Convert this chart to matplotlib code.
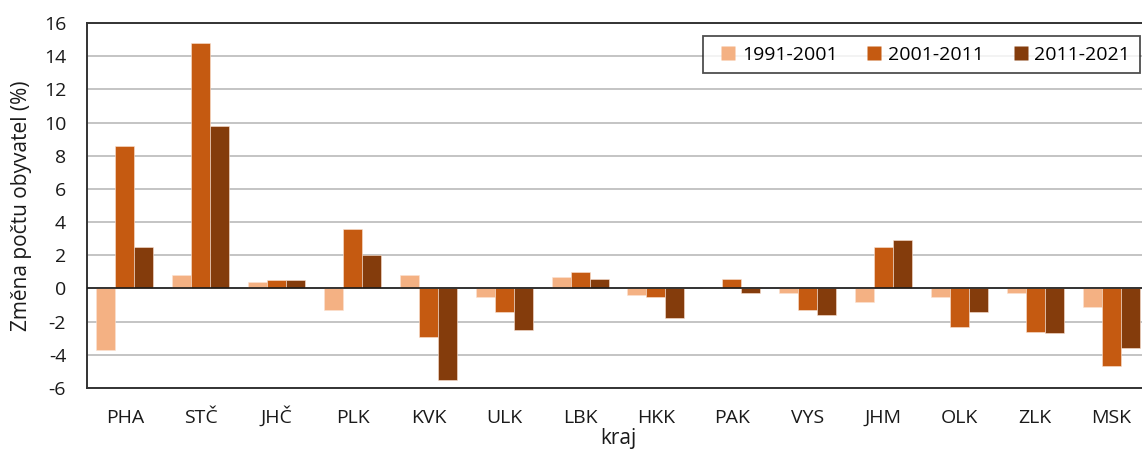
import numpy as np
import matplotlib
matplotlib.use("Agg")
import matplotlib.pyplot as plt
from matplotlib.lines import Line2D

plt.rcParams['font.family'] = ['Open Sans', 'DejaVu Sans']
plt.rcParams['axes.unicode_minus'] = False

# kraje a změny počtu obyvatel (%)
kraje = ["PHA", "STČ", "JHČ", "PLK", "KVK", "ULK", "LBK",
         "HKK", "PAK", "VYS", "JHM", "OLK", "ZLK", "MSK"]
obdobi = ["1991-2001", "2001-2011", "2011-2021"]
zmena_1991_2001 = [-3.7, 0.8, 0.4, -1.3, 0.8, -0.5, 0.7, -0.4, 0.0, -0.3, -0.8, -0.5, -0.3, -1.1]
zmena_2001_2011 = [8.6, 14.8, 0.5, 3.6, -2.9, -1.4, 1.0, -0.5, 0.6, -1.3, 2.5, -2.3, -2.6, -4.7]
zmena_2011_2021 = [2.5, 9.8, 0.5, 2.0, -5.5, -2.5, 0.6, -1.8, -0.3, -1.6, 2.9, -1.4, -2.7, -3.6]
barvy = ["#F4B183", "#C55A11", "#843C0C"]
yticks = list(range(-6, 17, 2))

W, H = 1142, 450
fig = plt.figure(figsize=(W / 100, H / 100), dpi=100)
# plocha grafu vybíhá kousek za pravý okraj obrázku (jako v originálu)
ax = fig.add_axes([87 / W, 1 - 388 / H, (1149 - 87) / W, (388 - 23) / H])

x = np.arange(len(kraje))
sirka = 0.25
serie = [zmena_1991_2001, zmena_2001_2011, zmena_2011_2021]
for i, (hodnoty, barva) in enumerate(zip(serie, barvy)):
    ax.bar(x + (i - 1) * sirka, hodnoty, sirka, color=barva,
           edgecolor="#fbe3d3", linewidth=0.4, zorder=3)

ax.set_xlim(-0.5, len(kraje) - 0.5)
ax.set_ylim(-6, 16)
ax.set_yticks(yticks)
ax.set_xticks(x)
ax.set_xticklabels(kraje)
ax.yaxis.grid(True, color="#BFBFBF", linewidth=1.3, zorder=0)
ax.set_axisbelow(True)
ax.axhline(0, color="#1a1a1a", linewidth=1.2, zorder=4)
for s in ax.spines.values():
    s.set_color("#333333")
    s.set_linewidth(1.4)
ax.tick_params(axis="both", length=0, labelsize=14, colors="#1a1a1a")
ax.tick_params(axis="y", pad=15)
ax.tick_params(axis="x", pad=25)
for lbl in ax.get_xticklabels():
    lbl.set_verticalalignment("baseline")

ax.set_ylabel("Změna počtu obyvatel (%)", fontsize=15, color="#1a1a1a", va="center")
ax.yaxis.set_label_coords((22 - 87) / 1062, 0.5)
ax.set_xlabel("kraj", fontsize=15, color="#1a1a1a", va="baseline")
ax.xaxis.set_label_coords(0.5, (388 - 444) / 365)

# legenda se čtverečky
handles = [Line2D([], [], linestyle="none", marker="s", markersize=9.4,
                  markerfacecolor=b, markeredgecolor="none") for b in barvy]
leg = ax.legend(handles, obdobi, loc="upper right",
                bbox_to_anchor=(1140 / W, 1 - 36 / H),
                bbox_transform=fig.transFigure, ncol=3, fontsize=14,
                fancybox=False, frameon=True, handlelength=1.6,
                handletextpad=-0.1, columnspacing=1.1, borderpad=0.5,
                borderaxespad=0)
leg.get_frame().set_edgecolor("#222222")
leg.get_frame().set_linewidth(1.3)

fig.savefig("out.png", dpi=100)
